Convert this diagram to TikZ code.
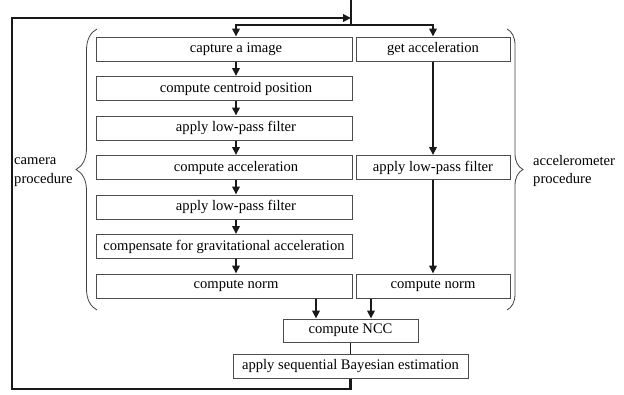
\documentclass[tikz,border=0pt]{standalone}
\usepackage{fontspec}
\setmainfont{Liberation Serif}
\usetikzlibrary{arrows.meta,decorations.pathreplacing}
\newcommand{\camShift}[1]{\hspace*{24pt}#1}
\tikzset{
  procbox/.style={draw=black!70, line width=1pt, minimum height=24pt, inner sep=2pt},
  cambox/.style={procbox, minimum width=256pt},
  accbox/.style={procbox, minimum width=154pt},
  flow/.style={draw=black!90, line width=2.2pt, -{Triangle[length=8pt,width=7.5pt]}},
  plain/.style={draw=black!90, line width=2.2pt},
  curly/.style={draw=black!75, line width=0.8pt, decorate, decoration={brace, amplitude=#1}},
}

\begin{document}
\begin{tikzpicture}[x=1pt,y=-1pt,font={\fontsize{14.6}{18.5}\selectfont}]
\useasboundingbox (0,0) rectangle (624,394);
% camera procedure
\node[cambox] (cap) at (224,49) {\camShift{capture a image}};
\node[cambox] (cen) at (224,88.5) {\camShift{compute centroid position}};
\node[cambox] (lpf) at (224,128) {\camShift{apply low-pass filter}};
\node[cambox] (cacc) at (224,167.5) {\camShift{compute acceleration}};
\node[cambox] (lpfb) at (224,207) {\camShift{apply low-pass filter}};
\node[cambox] (grav) at (224,246.5) {compensate for gravitational acceleration};
\node[cambox] (cnorm) at (224,286) {\camShift{compute norm}};
% accelerometer procedure
\node[accbox] (getacc) at (433,49) {get acceleration};
\node[accbox] (alpf) at (433,167.5) {apply low-pass filter};
\node[accbox] (anorm) at (433,286) {compute norm};
% fusion
\node[procbox, minimum width=135pt, minimum height=23pt] (ncc) at (350.5,330.5) {compute NCC};
\node[procbox, minimum width=235pt] (bayes) at (350.5,366) {apply sequential Bayesian estimation};
% braces and labels
\draw[curly=21pt] (97,310) -- (97,29);
\draw[curly=16pt] (507,29) -- (507,310);
\node[anchor=west, align=left, inner sep=0pt] (camlbl) at (14,172) {camera\\procedure};
\node[anchor=west, align=left, inner sep=0pt] (acclbl) at (533,171) {accelerometer\\procedure};
% entry and split
\coordinate (top) at (351,0);
\coordinate (split) at (351,25);
\coordinate (back) at (351,18);
\draw[plain] (top) -- (split);
\draw[flow] (split) -| ([xshift=12pt]cap.north);
\draw[flow] (split) -| (getacc.north);
\foreach \a/\b in {cap/cen, cen/lpf, lpf/cacc, cacc/lpfb, lpfb/grav, grav/cnorm}
  \draw[flow] ([xshift=12pt]\a.south) -- ([xshift=12pt]\b.north);
\draw[flow] (getacc) -- (alpf);
\draw[flow] (alpf) -- (anorm);
\draw[flow] ([xshift=-34.5pt]ncc.north |- cnorm.south) -- ([xshift=-34.5pt]ncc.north);
\draw[flow] ([xshift=20.5pt]ncc.north |- anorm.south) -- ([xshift=20.5pt]ncc.north);
\draw[plain, line width=1.5pt] (ncc) -- (bayes);
% loop back
\draw[flow] (bayes.south) |- (12,389) |- (back);
\end{tikzpicture}
\end{document}
